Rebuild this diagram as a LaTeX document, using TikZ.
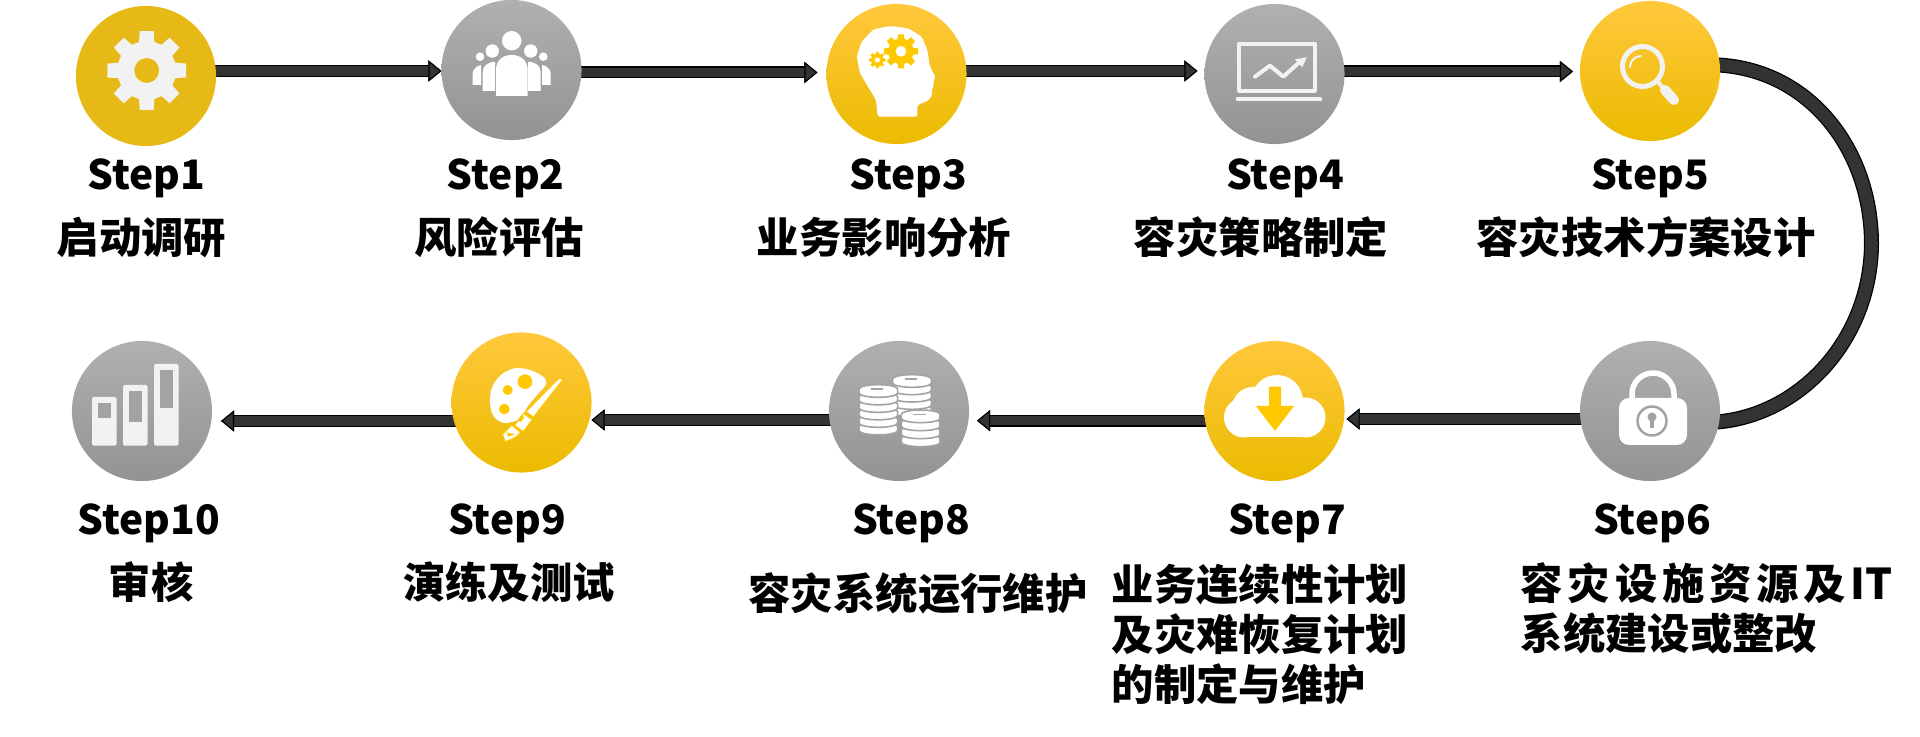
\documentclass[tikz,border=0pt]{standalone}
\usepackage{fontspec}
\setmainfont{Noto Sans CJK SC}
\usetikzlibrary{arrows.meta,backgrounds}
\definecolor{goldflat}{HTML}{E6B917}
\definecolor{goldtop}{HTML}{FFC83D}
\definecolor{goldmid}{HTML}{FFC800}
\definecolor{goldlow}{HTML}{EBBB00}
\definecolor{graytop}{HTML}{B0B0B0}
\definecolor{graylow}{HTML}{939393}
\definecolor{graymid}{HTML}{A3A3A3}
\definecolor{lineink}{HTML}{333333}
\definecolor{iconwhite}{HTML}{F2F2F2}
\tikzset{
stepnode/.style={circle, minimum size=1.4cm, inner sep=0pt, outer sep=0pt},
stepgold/.style={stepnode, top color=goldtop, middle color=goldmid, bottom color=goldlow},
stepgray/.style={stepnode, top color=graytop, bottom color=graylow},
titletext/.style={font=\fontsize{11.55pt}{14.3pt}\selectfont\bfseries, anchor=base, inner sep=0pt},
labeltext/.style={font=\fontsize{12.05pt}{14.3pt}\selectfont\bfseries, anchor=base, inner sep=0pt},
bodytext/.style={labeltext, align=left},
flowline/.style={line width=.095cm, draw=lineink, preaction={draw=black, line width=.12cm},
-{Triangle[length=.13cm, width=.21cm, fill=lineink, color=black, line width=.3pt]}},
bendline/.style={line width=.125cm, draw=lineink, preaction={draw=black, line width=.15cm}},
}
\newcommand{\gearicon}[5]{%
\begin{scope}[shift={(#1,#2)}]
\fill[#4] (-15:#3*.74) \foreach \a in {0,45,...,315} {-- (\a-15:#3*.74) -- (\a-10:#3) -- (\a+10:#3) -- (\a+15:#3*.74)} -- cycle;
\fill[#5] (0,0) circle (#3*.31);
\end{scope}}
\newcommand{\coinstack}[4]{%
\foreach \k in {#4} {
\pgfmathsetmacro{\yy}{#2+\k*#3}
\draw[fill=white, draw=graymid, line width=.016cm] (#1-58,\yy) -- (#1-58,\yy+12) arc[start angle=180, end angle=0, x radius=58, y radius=13] -- (#1+58,\yy) arc[start angle=0, end angle=-180, x radius=58, y radius=13] -- cycle;
}
\draw[graymid, line width=.016cm] (#1-22,#2) -- (#1+15,#2);}
\begin{document}
\begin{tikzpicture}[x=.01cm, y=-.01cm, line join=round, line cap=butt]
\useasboundingbox (0,0) rectangle (1920,737);
%circles
\node[stepnode, fill=goldflat] (s1) at (146,76) {};
\node[stepgray] (s2) at (511.5,70) {};
\node[stepgold] (s3) at (896.5,74) {};
\node[stepgray] (s4) at (1274.5,74) {};
\node[stepgold] (s5) at (1650,71) {};
\node[stepgray] (s6) at (1650,411) {};
\node[stepgold] (s7) at (1274.5,411) {};
\node[stepgray] (s8) at (899,411) {};
\node[stepgold] (s9) at (521.5,402.5) {};
\node[stepgray] (s10) at (142,411) {};
%arrows
\begin{scope}[on background layer]
\foreach \p/\q/\ya/\yb/\g in {s1/s2/-5/1/0, s2/s3/2.5/-1.5/9, s3/s4/-3/-3/7, s4/s5/-2.5/.5/7}
\draw[flowline] ([yshift=-\ya*.01cm]\p.center) -- ([shift={(-\g,\yb)}]\q.west);
\foreach \p/\q/\ya/\yb/\g in {s6/s7/8/8/2, s7/s8/9.7/9.7/8, s8/s9/9/17.5/0, s9/s10/18.5/10/9}
\draw[flowline] ([yshift=-\ya*.01cm]\p.center) -- ([shift={(\g,\yb)}]\q.east);
\draw[bendline] ([shift={(-2,-6)}]s5.east) .. controls (1810,70) and (1871,150) .. (1871.5,243)
.. controls (1871,340) and (1800,415) .. ([shift={(-3,11)}]s6.east);
\end{scope}
%titles
\foreach \n/\x/\y/\t in {t1/146.5/190/Step1, t2/505.7/190/Step2, t3/908.6/190/Step3, t4/1285/190/Step4, t5/1650/190/Step5,
t6/1652/535/Step6, t7/1287/535/Step7, t8/911/535/Step8, t9/507/535/Step9, t10/149/535/Step10}
\node[titletext] (\n) at (\x,\y) {\t};
%labels
\foreach \n/\x/\y/\t in {l1/141.4/253.5/启动调研, l2/499/253.5/风险评估, l3/884/253.5/业务影响分析, l4/1261/253.5/容灾策略制定,
l5/1646/253.5/容灾技术方案设计, l8/918/610/容灾系统运行维护, l9/509/598.5/演练及测试, l10/151/598.5/审核}
\node[labeltext] (\n) at (\x,\y) {\t};
\node[bodytext, anchor=north west] (l7) at (1111,563) {业务连续性计划\\及灾难恢复计划\\的制定与维护};
\node[bodytext, anchor=north west] (l6) at (1520,562) {\makebox[3.72cm][s]{容\hfill 灾\hfill 设\hfill 施\hfill 资\hfill 源\hfill 及\hfill IT}\\系统建设或整改};
%icon 1
\gearicon{146.7}{70.5}{40}{iconwhite}{goldflat}
%icon 2
\fill[white] (511.7,40.7) circle (9.7) (492.3,51) circle (6.7) (530.7,51) circle (6.7) (480,56.7) circle (4.3) (543.3,56.7) circle (4.3);
\fill[white] (496,96) -- (496,70) .. controls (496,60) and (503,55) .. (511.7,55) .. controls (520,55) and (527.7,60) .. (527.7,70) -- (527.7,96) -- cycle;
\foreach \s in {-1,1}
\fill[white, shift={(511.7,0)}, xscale=\s] (16.5,91) -- (16.5,61.7) .. controls (24,62) and (29,66) .. (29,72) -- (29,91) -- cycle
(30.5,85) -- (30.5,65) .. controls (36,66) and (39,70) .. (39,74) -- (39,85) -- cycle;
%icon 3
\begin{scope}[shift={(840,10)}, scale=1/3]
\fill[white, rounded corners=.02cm] (113,320) -- (232,320) -- (232,285) -- (265,272) -- (277,255) -- (275,238) -- (283,224) -- (278,212) -- (288,205)
-- (270,170) -- (262,120) -- (245,80) -- (205,55) -- (150,48) -- (100,58) -- (65,95) -- (50,140) -- (60,190) -- (90,240) -- (108,270) -- cycle;
\gearicon{183}{124}{52}{goldmid}{white}
\gearicon{112}{150}{25}{goldmid}{white}
\end{scope}
%icon 4
\begin{scope}[shift={(1215,20)}, scale=1/3]
\draw[iconwhite, line width=.04cm] (73,71) rectangle (299,212);
\draw[iconwhite, line width=.04cm, line cap=round] (68,238) -- (316,238);
\draw[iconwhite, line width=.04cm, line cap=round] (120,170) -- (165,137) -- (205,170) -- (255,125);
\fill[iconwhite] (240,118) -- (275,112) -- (262,142) -- cycle;
\end{scope}
%icon 5
\draw[iconwhite, line width=.05cm] (1642.5,66.5) circle (20);
\draw[iconwhite, line width=.02cm, line cap=round] (1630,67) arc[start angle=180, end angle=270, radius=11];
\draw[iconwhite, line width=.04cm] (1657,81) -- (1666,91);
\draw[iconwhite, line width=.1cm, line cap=round] (1665,90) -- (1674,100);
%icon 6
\draw[white, line width=.055cm] (1632,402) -- (1632,394) arc[start angle=180, end angle=360, radius=21] -- (1674,402);
\fill[white, rounded corners=.1cm] (1619,398) rectangle (1687,445);
\draw[graymid, line width=.025cm] (1652,421) circle (14.5);
\fill[graymid] (1652,417) circle (4.5);
\draw[graymid, line width=.04cm] (1652,417) -- (1652,428);
%icon 7
\fill[white] (1277,401) circle (26);
\fill[white] (1253,408) circle (21);
\fill[white] (1244,417.5) circle (20);
\fill[white] (1305.5,417.5) circle (20);
\fill[white] (1244,410) rectangle (1305.5,437.5);
\fill[goldmid] (1269,386.7) -- (1281,386.7) -- (1281,406) -- (1294,406) -- (1275,431) -- (1256,406) -- (1269,406) -- cycle;
%icon 8
\begin{scope}[shift={(850,360)}, scale=1/3]
\coinstack{186}{57}{22}{4,3,2,1,0}
\coinstack{85}{87}{22.5}{5,4,3,2,1,0}
\coinstack{212}{163}{24}{3,2,1,0}
\end{scope}
%icon 9
\begin{scope}[shift={(470,345)}, scale=1/3]
\fill[white, rounded corners=.05cm] (58,170) -- (65,125) -- (90,90) -- (130,68) -- (175,72) -- (215,90) -- (235,112) -- (175,180) -- (150,225) -- (100,237) -- (68,215) -- cycle;
\fill[goldmid] (113,135) circle (15) (165,110) circle (22) (103,192) circle (16);
\draw[goldmid, fill=white, line width=.012cm] (268,98) -- (279,104) -- (190,217) -- (168,200) -- cycle;
\draw[goldmid, fill=white, line width=.012cm] (160,205) -- (187,224) -- (160,260) -- (133,242) -- cycle;
\fill[goldmid] (146,226) -- (157,212) -- (163,217) -- (152,232) -- cycle;
\draw[goldmid, fill=white, line width=.012cm] (125,240) -- (152,262) -- (138,276) -- (106,291) -- (97,268) -- cycle;
\fill[goldmid] (110,262) -- (135,268) -- (115,275) -- cycle;
\end{scope}
%icon 10
\foreach \xa/\ya/\wa/\wb in {92/397/402.7/418, 123/385/391/421.7, 154/364/370/408} {
\fill[iconwhite, rounded corners=.015cm] (\xa,\ya) rectangle (\xa+24.5,445.7);
\fill[graymid] (\xa+6,\wa) rectangle (\xa+19,\wb);
}
\end{tikzpicture}
\end{document}
